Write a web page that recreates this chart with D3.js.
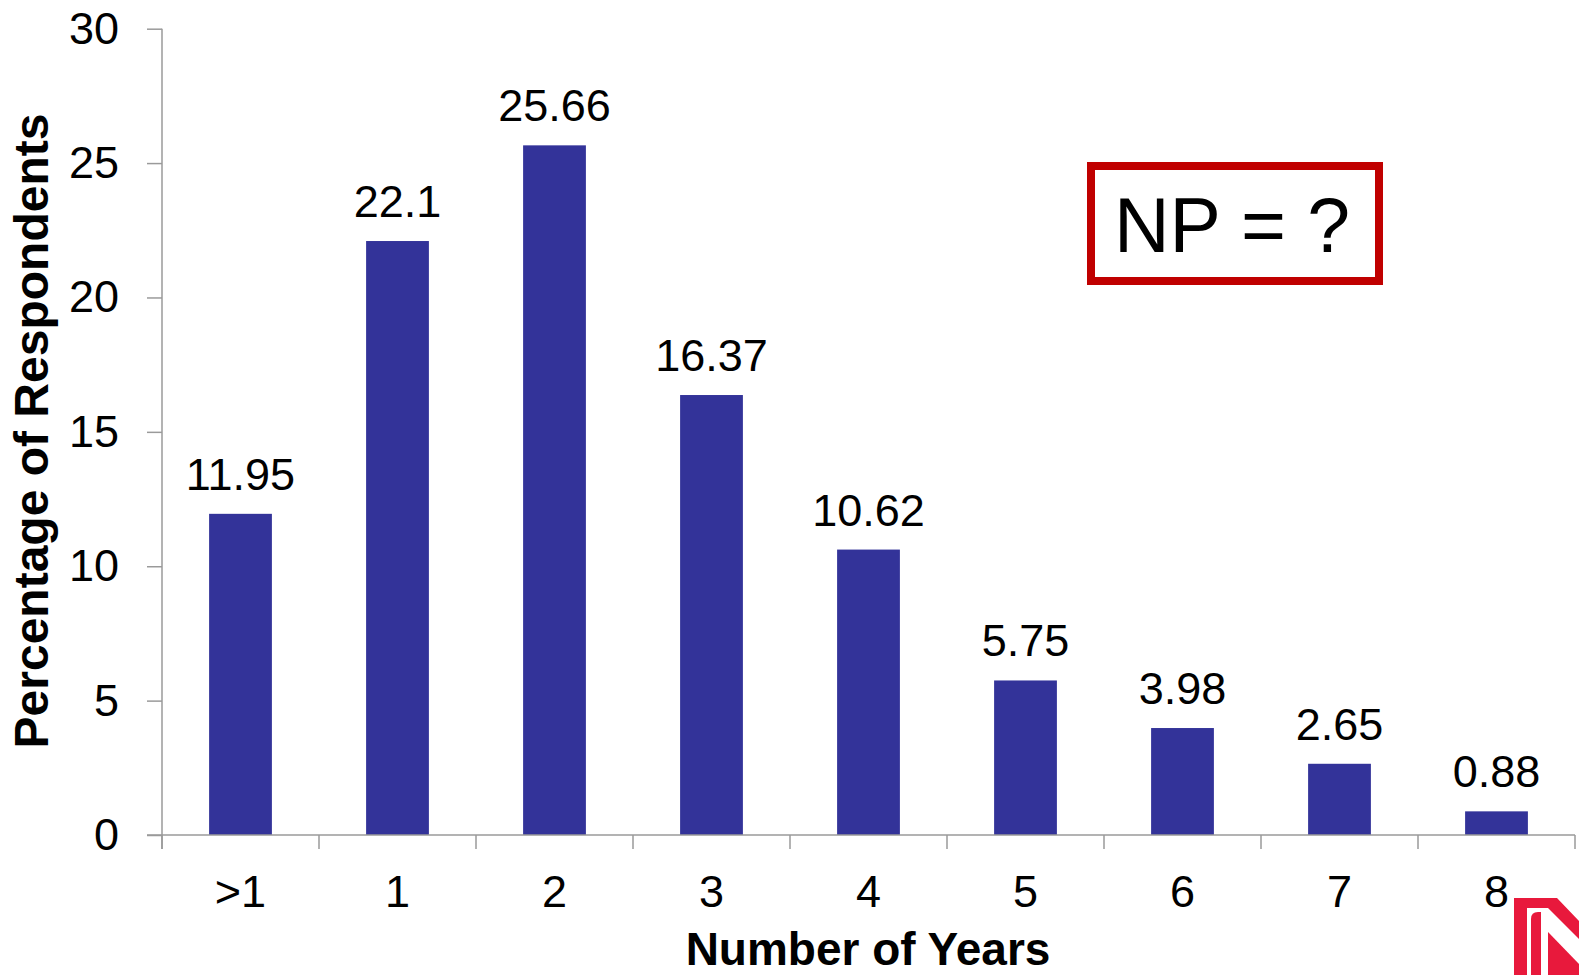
<!DOCTYPE html>
<html>
<head>
<meta charset="utf-8">
<script src="https://cdn.jsdelivr.net/npm/d3@7"></script>
<style>
  html, body { margin: 0; padding: 0; background: #fff; }
  svg { display: block; font-family: "Liberation Sans", Arial, sans-serif; }
</style>
</head>
<body>
<svg id="chart" width="1579" height="975"></svg>
<script>
// Survey results: share of respondents by number of years
const categories = [">1", "1", "2", "3", "4", "5", "6", "7", "8"];
const values = [11.95, 22.1, 25.66, 16.37, 10.62, 5.75, 3.98, 2.65, 0.88];
const yTicks = [0, 5, 10, 15, 20, 25, 30];
const yTitle = "Percentage of Respondents";
const xTitle = "Number of Years";
const noteText = "NP = ?";

const svg = d3.select("#chart");
const plot = { left: 162, right: 1575, top: 28.7, bottom: 835 };
const axisColor = "#9a9a9a";
const barColor = "#333399";

const x = d3.scaleBand()
  .domain(categories)
  .range([plot.left, plot.right])
  .paddingInner(0.6)
  .paddingOuter(0.3);

const y = d3.scaleLinear()
  .domain([0, 30])
  .range([plot.bottom, plot.top]);

// Bars
svg.append("g")
  .selectAll("rect")
  .data(values)
  .join("rect")
  .attr("x", (d, i) => x(categories[i]))
  .attr("y", d => y(d))
  .attr("width", x.bandwidth())
  .attr("height", d => y(0) - y(d))
  .attr("fill", barColor);

// Value labels above bars
svg.append("g")
  .selectAll("text")
  .data(values)
  .join("text")
  .attr("x", (d, i) => x(categories[i]) + x.bandwidth() / 2)
  .attr("y", d => y(d) - 24)
  .attr("text-anchor", "middle")
  .attr("font-size", 45)
  .attr("fill", "#000")
  .text(d => d);

// Y axis
const yAxis = d3.axisLeft(y)
  .tickValues(yTicks)
  .tickSize(15)
  .tickPadding(28)
  .tickFormat(d3.format("d"));

const gy = svg.append("g")
  .attr("transform", `translate(${plot.left},0)`)
  .call(yAxis);
gy.select(".domain").remove();
gy.append("line")
  .attr("x1", 0).attr("x2", 0)
  .attr("y1", plot.top).attr("y2", plot.bottom + 14)
  .attr("stroke", axisColor).attr("stroke-width", 1.5);
gy.selectAll(".tick line").attr("stroke", axisColor).attr("stroke-width", 1.5);
gy.selectAll(".tick text")
  .attr("font-size", 45)
  .attr("font-family", "'Liberation Sans', Arial, sans-serif")
  .attr("fill", "#000");

// X axis: baseline with ticks at category boundaries
const step = x.step();
const boundaries = d3.range(categories.length + 1).map(i => plot.left + i * step);
const gx = svg.append("g");
gx.append("line")
  .attr("x1", plot.left - 15).attr("x2", plot.right)
  .attr("y1", plot.bottom).attr("y2", plot.bottom)
  .attr("stroke", axisColor).attr("stroke-width", 1.5);
gx.selectAll("line.b")
  .data(boundaries)
  .join("line")
  .attr("class", "b")
  .attr("x1", d => d).attr("x2", d => d)
  .attr("y1", plot.bottom).attr("y2", plot.bottom + 14)
  .attr("stroke", axisColor).attr("stroke-width", 1.5);
gx.selectAll("text")
  .data(categories)
  .join("text")
  .attr("x", d => x(d) + x.bandwidth() / 2)
  .attr("y", 907)
  .attr("text-anchor", "middle")
  .attr("font-size", 45)
  .attr("fill", "#000")
  .text(d => d);

// Axis titles
svg.append("text")
  .attr("transform", "translate(48,431) rotate(-90)")
  .attr("text-anchor", "middle")
  .attr("font-size", 48)
  .attr("font-weight", "bold")
  .attr("fill", "#000")
  .text(yTitle);

svg.append("text")
  .attr("x", 868)
  .attr("y", 965)
  .attr("text-anchor", "middle")
  .attr("font-size", 46)
  .attr("font-weight", "bold")
  .attr("fill", "#000")
  .text(xTitle);

// Boxed note
const note = svg.append("g");
note.append("rect")
  .attr("x", 1091).attr("y", 166)
  .attr("width", 288).attr("height", 115)
  .attr("fill", "#fff")
  .attr("stroke", "#c00000")
  .attr("stroke-width", 8);
note.append("text")
  .attr("x", 1232)
  .attr("y", 252)
  .attr("text-anchor", "middle")
  .attr("font-size", 77)
  .attr("fill", "#000")
  .text(noteText);

// Corner emblem
const emblem = svg.append("g").attr("fill", "#e8193c");
emblem.append("path")
  .attr("d", "M1514,975 V898 H1557 L1581,923 V941 L1548,908 H1527 V975 Z");
emblem.append("path")
  .attr("d", "M1531,975 V919 Q1531,912 1538,912 H1541 V975 Z");
emblem.append("path")
  .attr("d", "M1548,932 L1581,966 V975 H1548 Z");
</script>
</body>
</html>
